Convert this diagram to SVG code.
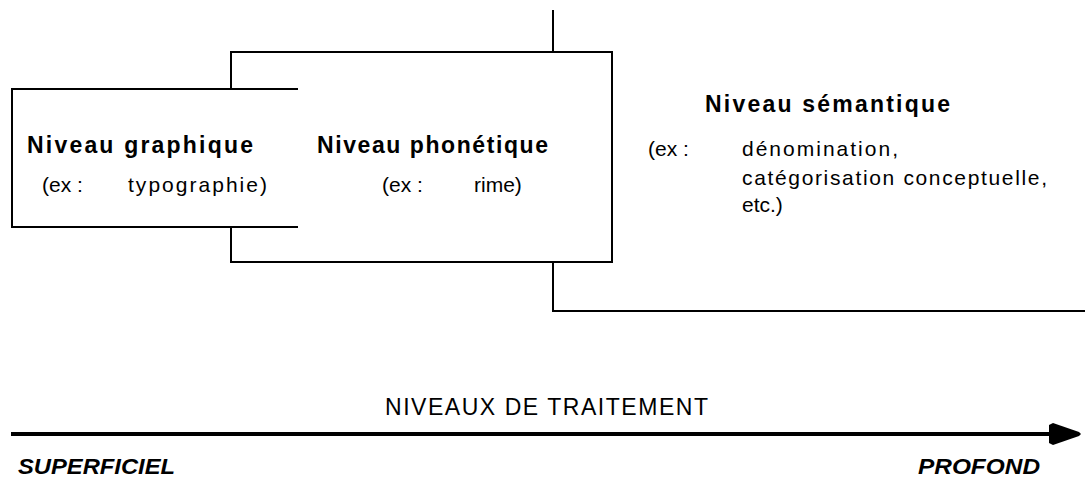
<svg xmlns="http://www.w3.org/2000/svg" width="1085" height="478" viewBox="0 0 1085 478">
  <style>
    .frame { fill: none; stroke: #000; stroke-width: 2; }
    .mask { fill: #fff; stroke: none; }
    .title { font-family: "Liberation Sans", Arial, sans-serif; font-weight: bold; font-size: 23px; fill: #000; }
    .body { font-family: "Liberation Sans", Arial, sans-serif; font-size: 21px; fill: #000; }
    .axis-label { font-family: "Liberation Sans", Arial, sans-serif; font-size: 23px; fill: #000; }
    .pole { font-family: "Liberation Sans", Arial, sans-serif; font-weight: bold; font-style: italic; font-size: 22px; fill: #000; }
    .axis { stroke: #000; stroke-width: 4; fill: none; }
  </style>
  <defs>
    <marker id="head" markerUnits="userSpaceOnUse" markerWidth="32" markerHeight="24" refX="2" refY="12" orient="auto">
      <path d="M0,3 L4,1 L30,10 L32,12 L30,14 L4,23 L0,21 Z" fill="#000"/>
    </marker>
  </defs>

  <rect width="1085" height="478" fill="#fff"/>

  <!-- deepest level: open frame behind the others -->
  <g id="niveau-semantique">
    <path class="frame" d="M553,10 V311 H1086"/>
    <text class="title" x="705" y="112" textLength="245" lengthAdjust="spacing">Niveau sémantique</text>
    <text class="body" x="648" y="156">(ex :</text>
    <text class="body" x="742" y="156" textLength="156" lengthAdjust="spacing">dénomination,</text>
    <text class="body" x="742" y="185" textLength="305" lengthAdjust="spacing">catégorisation conceptuelle,</text>
    <text class="body" x="742" y="212">etc.)</text>
  </g>

  <!-- middle level -->
  <g id="niveau-phonetique">
    <rect class="mask" x="231" y="52" width="381" height="210"/>
    <rect class="frame" x="231" y="52" width="381" height="210"/>
    <text class="title" x="317" y="153" textLength="231" lengthAdjust="spacing">Niveau phonétique</text>
    <text class="body" x="382" y="192">(ex :</text>
    <text class="body" x="474" y="192">rime)</text>
  </g>

  <!-- surface level, in front -->
  <g id="niveau-graphique">
    <rect class="mask" x="12" y="89" width="286" height="138"/>
    <path class="frame" d="M298,89 H12 V227 H298"/>
    <text class="title" x="27" y="153" textLength="226" lengthAdjust="spacing">Niveau graphique</text>
    <text class="body" x="42" y="192">(ex :</text>
    <text class="body" x="128" y="192" textLength="139" lengthAdjust="spacing">typographie)</text>
  </g>

  <!-- processing-depth axis -->
  <g id="connectors">
    <line class="axis" x1="11" y1="434" x2="1051" y2="434" marker-end="url(#head)"/>
  </g>
  <g id="axe">
    <text class="axis-label" x="385" y="415" textLength="323" lengthAdjust="spacing">NIVEAUX DE TRAITEMENT</text>
    <text class="pole" x="18" y="474" textLength="157" lengthAdjust="spacingAndGlyphs">SUPERFICIEL</text>
    <text class="pole" x="918" y="474" textLength="122" lengthAdjust="spacingAndGlyphs">PROFOND</text>
  </g>
</svg>
